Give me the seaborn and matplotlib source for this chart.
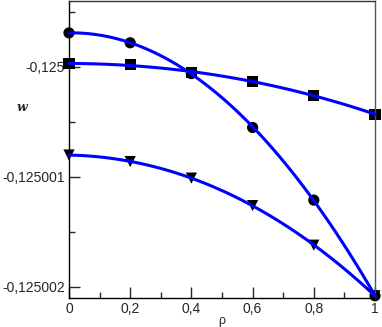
import matplotlib
matplotlib.use("Agg")
import matplotlib.pyplot as plt
import matplotlib.ticker as mticker
import pandas as pd
import seaborn as sns

rho = [0.0, 0.2, 0.4, 0.6, 0.8, 1.0]
w_circle = [-0.12499969, -0.12499978, -0.12500006, -0.12500055, -0.12500121, -0.12500208]
w_square = [-0.12499997, -0.12499998, -0.12500005, -0.12500013, -0.12500026, -0.12500043]
w_triangle = [-0.12500080, -0.12500086, -0.12500101, -0.12500126, -0.12500162, -0.12500208]

y_ticks = [-0.125002, -0.125001, -0.125]
x_ticks = [0, 0.2, 0.4, 0.6, 0.8, 1]

df = pd.concat([
    pd.DataFrame({"rho": rho, "w": w_circle, "set": "circle"}),
    pd.DataFrame({"rho": rho, "w": w_square, "set": "square"}),
    pd.DataFrame({"rho": rho, "w": w_triangle, "set": "triangle"}),
])

sns.set_style("ticks")
plt.rcParams["font.family"] = ["Liberation Sans", "DejaVu Sans"]

fig = plt.figure(figsize=(3.82, 3.27), dpi=100)
ax = fig.add_axes([0.1806, 0.0887, 0.8011, 0.9083])

sns.scatterplot(
    data=df, x="rho", y="w",
    style="set", markers={"circle": "o", "square": "s", "triangle": "v"},
    color="black", s=65, edgecolor="black", linewidth=0,
    legend=False, ax=ax, clip_on=False, zorder=2
)
for name, part in df.groupby("set"):
    sns.regplot(
        data=part, x="rho", y="w", order=3, ci=None, scatter=False,
        line_kws={"color": "#0000ff", "linewidth": 2.2, "zorder": 3, "clip_on": False},
        ax=ax
    )

ax.set_xticks(x_ticks)
ax.xaxis.set_minor_locator(mticker.MultipleLocator(0.1))
ax.set_yticks(y_ticks)
ax.set_yticks([-0.1250015, -0.1250005, -0.1249995], minor=True)
ax.set_xlim(0, 1)
ax.set_ylim(-0.1250021, -0.1249994)
ax.xaxis.set_major_formatter(mticker.FuncFormatter(
    lambda v, p: ("%g" % round(v, 1)).replace(".", ",")))
ax.yaxis.set_major_formatter(mticker.FuncFormatter(
    lambda v, p: ("%.6f" % v).rstrip("0").replace(".", ",")))
ax.tick_params(which="major", direction="in", length=8, width=1, labelsize=10, pad=3)
ax.tick_params(which="minor", direction="in", length=4, width=1)
for s in ax.spines.values():
    s.set_visible(True)
    s.set_linewidth(1)
    s.set_color("black")
ax.spines["right"].set_color("#555555")
ax.spines["top"].set_color("#333333")

ax.set_xlabel("ρ", fontsize=9, labelpad=-1)
ax.set_ylabel("")
fig.text(0.058, 0.672, "w", fontsize=9, family="DejaVu Serif",
         style="italic", weight="bold", ha="center", va="center")

fig.savefig("out.png", dpi=100)
